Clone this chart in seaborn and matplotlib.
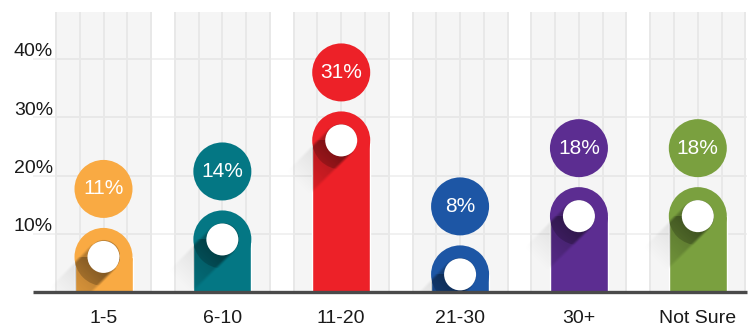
import numpy as np
import pandas as pd
import matplotlib
matplotlib.use("Agg")
import matplotlib.pyplot as plt
from matplotlib.patches import Ellipse, Rectangle
import seaborn as sns

# Survey answers: share of respondents per bucket
categories = ["1-5", "6-10", "11-20", "21-30", "30+", "Not Sure"]
values = [11, 14, 31, 8, 18, 18]
colors = ["#F9AA43", "#047784", "#ED2128", "#1D56A5", "#5C2D91", "#7AA03F"]
ytick_values = [10, 20, 30, 40]
ytick_labels = ["10%", "20%", "30%", "40%"]

sns.set_theme(style="white")
plt.rcParams["font.family"] = ["Liberation Sans", "DejaVu Sans"]

W, H, DPI = 7.54, 3.27, 100
fig = plt.figure(figsize=(W, H), dpi=DPI)
fig.patch.set_facecolor("white")

# plot area in pixels
left_px, right_px, top_px, base_px = 33, 747, 12, 292
ax = fig.add_axes([left_px / 754, (327 - base_px) / 327,
                   (right_px - left_px) / 754, (base_px - top_px) / 327])

x0_px, sx = 103.5, 118.86        # pixel position of first category, px per category
sy = 5.825                       # px per percentage point
xlim = ((left_px - x0_px) / sx, (right_px - x0_px) / sx)
ylim = (0, (base_px - top_px) / sy)

bar_w_px = 58
rx = bar_w_px / 2 / sx
ry = bar_w_px / 2 / sy
dot_r_px = 16

df = pd.DataFrame({"category": categories, "value": values})
df["body"] = df["value"] - ry

# background panels with grid
for v in ytick_values:
    ax.plot(xlim, [v, v], color="#f1f1f1", lw=1.4, zorder=0.2, solid_capstyle="butt")
half = 47.5 / sx
for k in range(len(categories)):
    ax.add_patch(Rectangle((k - half, 0), 2 * half, ylim[1], facecolor="#f5f5f5",
                           edgecolor="none", zorder=0.5))
    for v in ytick_values:
        ax.plot([k - half, k + half], [v, v], color="#e8e8e8", lw=1.4, zorder=0.8,
                solid_capstyle="butt")
    for dx in [-half, -half / 2, 0, half / 2, half]:
        ax.plot([k + dx, k + dx], [0, ylim[1]], color="#e8e8e8", lw=1.4, zorder=0.8)

# bar bodies
sns.barplot(data=df, x="category", y="body", hue="category", palette=colors,
            width=bar_w_px / sx, saturation=1, legend=False, ax=ax, zorder=3)
bars = [p for p in ax.patches if isinstance(p, Rectangle) and p.get_zorder() == 3]


def shadow_image(cx, cy_data, top, alpha0, length_px):
    """Long 45-degree shadow cast from the dot toward the lower left."""
    xa, xb = cx - 1.0, cx + 0.15
    ya, yb = 0, top
    nx, ny = 300, 300
    xs = np.linspace(xa, xb, nx)
    ys = np.linspace(yb, ya, ny)
    X, Y = np.meshgrid(xs, ys)
    dxp = (X - cx) * sx
    dyp = (Y - cy_data) * sy
    d = np.array([-1.0, -1.0]) / np.sqrt(2)
    along = dxp * d[0] + dyp * d[1]
    perp = dxp * (-d[1]) + dyp * d[0]
    edge = np.clip((dot_r_px - np.abs(perp)) / 3.0 + 0.5, 0, 1)
    fade = np.clip(1 - along / length_px, 0, 1)
    inside = (along >= 0) | (dxp ** 2 + dyp ** 2 <= dot_r_px ** 2)
    a = alpha0 * edge * fade * inside
    img = np.zeros((ny, nx, 4))
    img[..., 3] = a
    return img, (xa, xb, ya, yb)


for k, (v, c) in enumerate(zip(values, colors)):
    cy = v - ry
    # rounded top
    cap = Ellipse((k, cy), 2 * rx, 2 * ry, facecolor=c, edgecolor="none", zorder=3)
    ax.add_patch(cap)
    # soft shadow on the panel
    img, ext = shadow_image(k, cy, v, 0.13, 62)
    ax.imshow(img, extent=ext, aspect="auto", interpolation="bilinear", zorder=2)
    # darker shadow across the bar itself
    img2, ext2 = shadow_image(k, cy, v, 0.32, 75)
    for clip in (bars[k], cap):
        im = ax.imshow(img2, extent=ext2, aspect="auto", interpolation="bilinear",
                       zorder=3.5)
        im.set_clip_path(clip)
    # white dot
    ax.add_patch(Ellipse((k, cy), 2 * dot_r_px / sx, 2 * dot_r_px / sy,
                         facecolor="white", edgecolor="none", zorder=4))
    # value bubble
    by = v + 39 / sy
    ax.add_patch(Ellipse((k, by), 2 * rx, 2 * ry, facecolor=c, edgecolor="none",
                         zorder=4))
    ax.text(k, by, f"{v}%", ha="center", va="center", color="white",
            fontsize=15, zorder=5)

# baseline
ax.plot(xlim, [0, 0], color="#4a4a4a", lw=2.4, zorder=6, clip_on=False,
        solid_capstyle="butt")

# y labels sit just above their grid lines
for v, lab in zip(ytick_values, ytick_labels):
    ax.text((53 - x0_px) / sx, v + 7 / sy, lab, ha="right", va="center",
            fontsize=14, color="#1a1a1a", zorder=5)

ax.set_xlim(*xlim)
ax.set_ylim(*ylim)
ax.set_yticks([])
ax.set_xticks(range(len(categories)))
ax.set_xticklabels(categories, fontsize=14, color="#1a1a1a")
ax.tick_params(axis="x", length=0, pad=13)
ax.set_xlabel("")
ax.set_ylabel("")
ax.set_facecolor("none")
for s in ax.spines.values():
    s.set_visible(False)

fig.savefig("out.png", dpi=DPI, facecolor="white")
